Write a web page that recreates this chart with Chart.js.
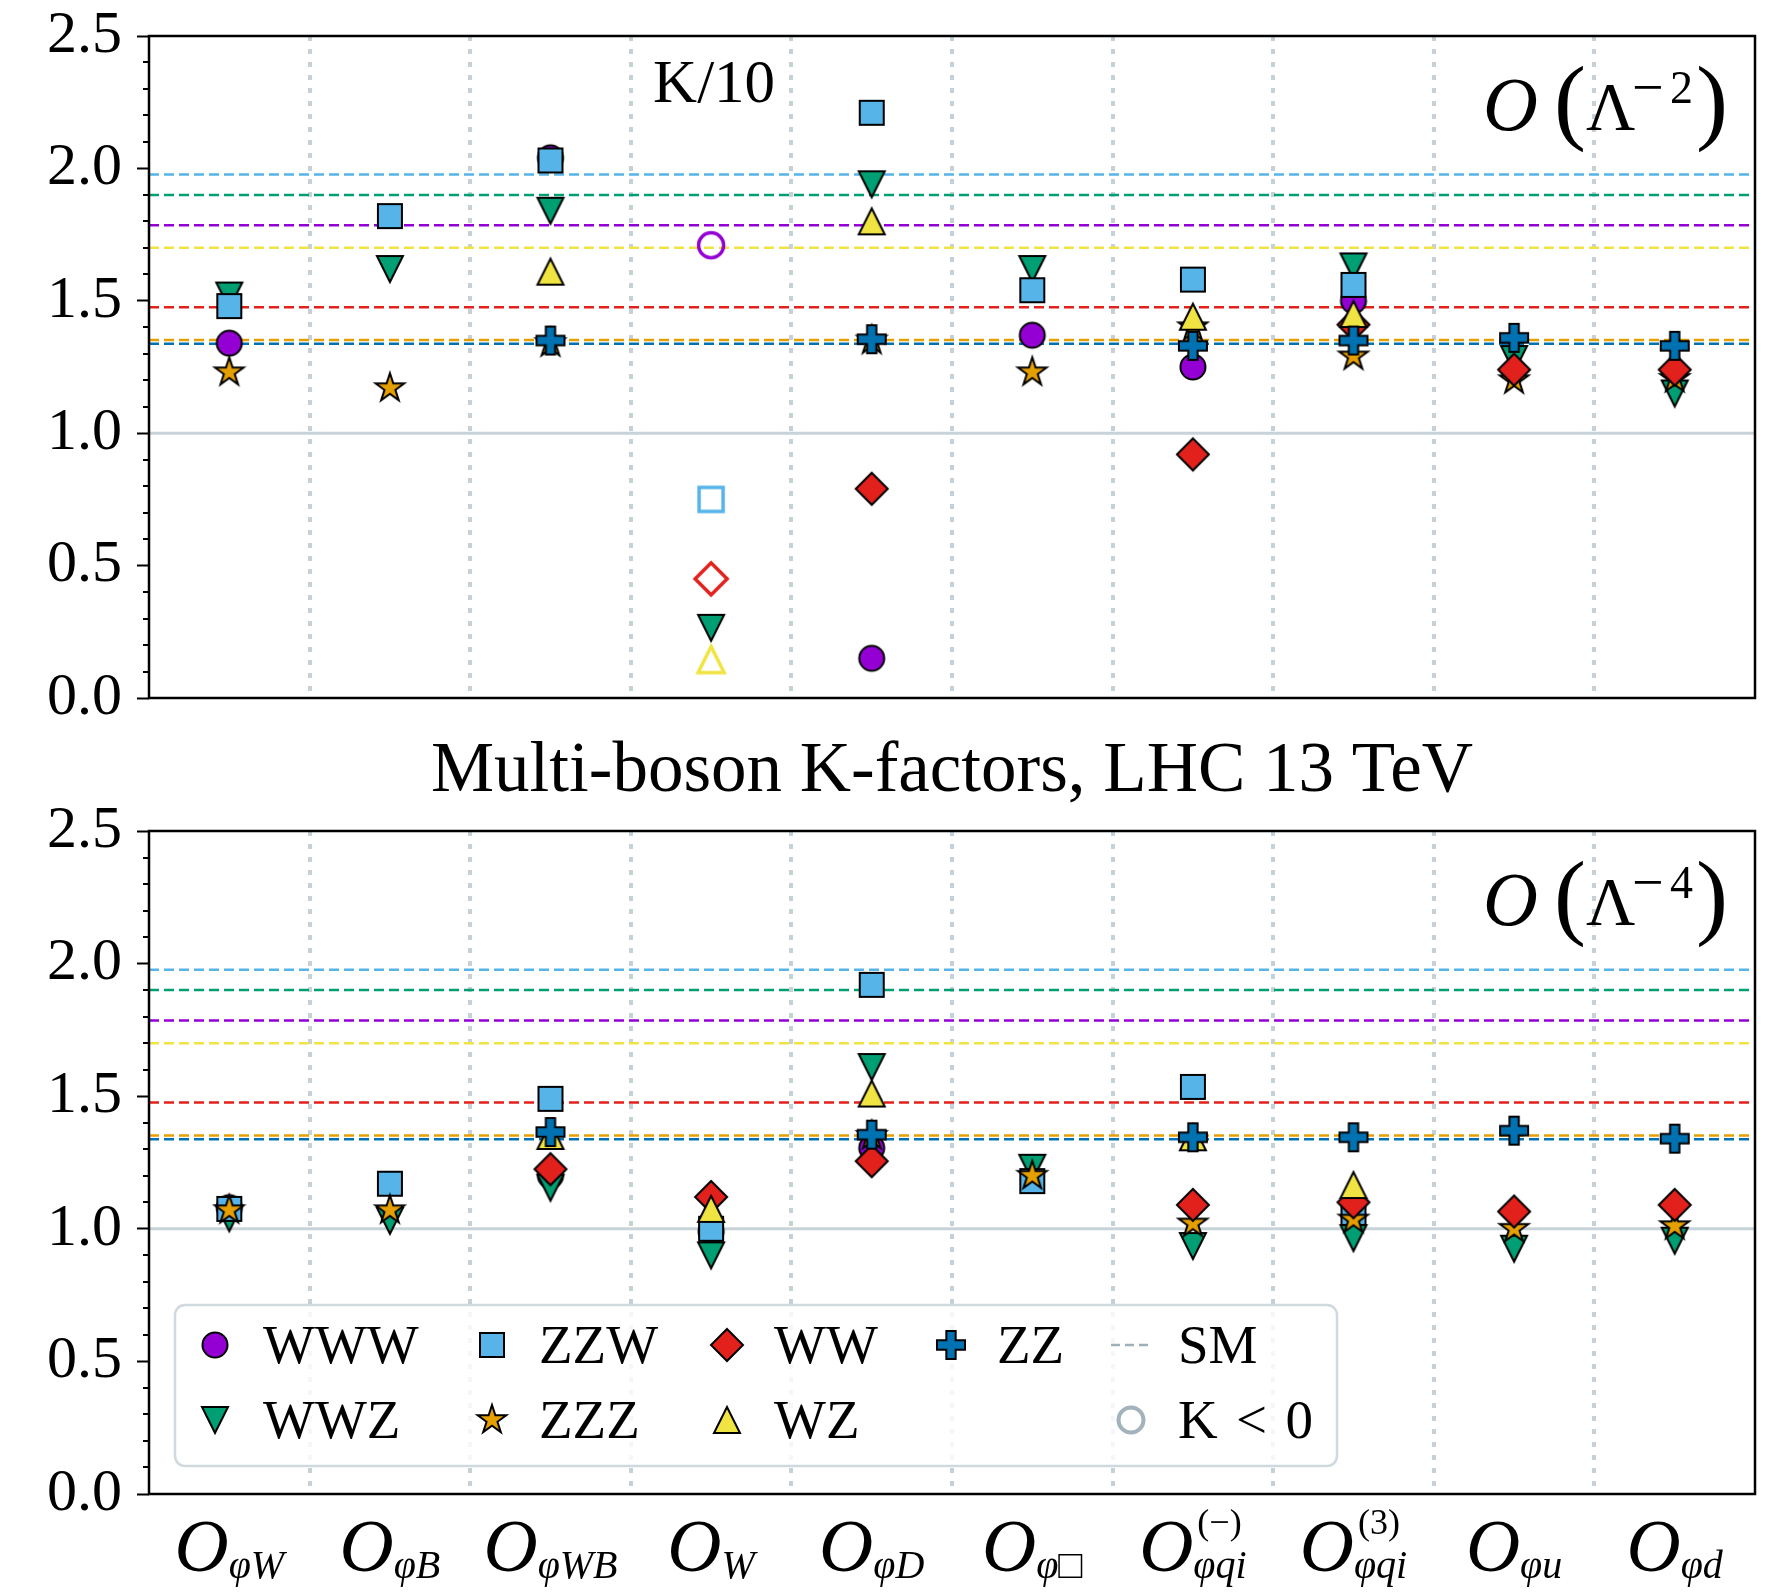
<!DOCTYPE html>
<html><head><meta charset="utf-8">
<script src="https://cdn.jsdelivr.net/npm/chart.js@4.4.1/dist/chart.umd.min.js"></script>
<style>
html,body{margin:0;padding:0;background:#fff;}
#wrap{position:relative;width:1768px;height:1596px;background:#fff;}
#c1{position:absolute;left:0;top:0;}
#c2{position:absolute;left:0;top:730px;}
</style></head><body>
<div id="wrap">
<canvas id="c1" width="1768" height="730"></canvas>
<canvas id="c2" width="1768" height="866"></canvas>
</div>
<script>
// ---------- data ----------
const tickMain = ['O','O','O','O','O','O','O','O','O','O'];
const tickSub  = ['φW','φB','φWB','W','φD','φ□','φqi','φqi','φu','φd'];
const tickSup  = ['','','','','','','(−)','(3)','',''];
const figTitle = 'Multi-boson K-factors, LHC 13 TeV';

const processes = ['WWW','WWZ','ZZW','ZZZ','WW','WZ','ZZ'];
const colors    = ['#9400D3','#009E73','#56B4E9','#E69F00','#E3211C','#F0E442','#0072B2'];
const shapes    = ['o','v','s','*','D','^','P'];
const smK       = [1.785, 1.900, 1.977, 1.352, 1.476, 1.700, 1.338];

// O(Lambda^-2), order of categories as tickSub
const L2_WWW = [1.34, null, 2.04, 1.71, 0.15, 1.37, 1.25, 1.50, null, null];
const L2_WWZ = [1.52, 1.62, 1.84, 0.265, 1.94, 1.62, null, 1.63, 1.28, 1.15];
const L2_ZZW = [1.48, 1.82, 2.03, 0.75, 2.21, 1.54, 1.58, 1.56, null, null];
const L2_ZZZ = [1.23, 1.17, 1.34, null, 1.35, 1.23, 1.40, 1.29, 1.20, 1.205];
const L2_WW  = [null, null, null, 0.45, 0.79, null, 0.92, 1.41, 1.24, 1.24];
const L2_WZ  = [null, null, 1.61, 0.145, 1.80, null, 1.44, 1.45, null, null];
const L2_ZZ  = [null, null, 1.35, null, 1.355, null, 1.33, 1.35, 1.36, 1.33];
// K<0 flags (category indices) for O(Lambda^-2)
const L2_neg_WWW = [3];
const L2_neg_WWZ = [];
const L2_neg_ZZW = [3];
const L2_neg_ZZZ = [];
const L2_neg_WW  = [3];
const L2_neg_WZ  = [3];
const L2_neg_ZZ  = [];

// O(Lambda^-4)
const L4_WWW = [1.08, null, 1.20, 0.99, 1.305, null, null, null, null, null];
const L4_WWZ = [1.04, 1.03, 1.155, 0.90, 1.61, 1.23, 0.935, 0.965, 0.925, 0.955];
const L4_ZZW = [1.075, 1.17, 1.49, 1.00, 1.92, 1.18, 1.535, 1.06, null, null];
const L4_ZZZ = [1.07, 1.07, null, null, 1.35, 1.20, 1.02, 1.035, 1.00, 1.01];
const L4_WW  = [null, null, 1.225, 1.12, 1.255, null, 1.09, 1.10, 1.065, 1.09];
const L4_WZ  = [null, null, 1.35, 1.075, 1.51, null, 1.345, 1.165, null, null];
const L4_ZZ  = [null, null, 1.365, null, 1.355, null, 1.345, 1.345, 1.37, 1.34];

const FONT = '"Liberation Serif", "DejaVu Serif", serif';

// ---------- markers ----------
function shapePath(g, shape, cx, cy) {
  g.beginPath();
  switch (shape) {
    case 'o': g.arc(cx, cy, 12.5, 0, Math.PI * 2); break;
    case 's': g.rect(cx - 12, cy - 12, 24, 24); break;
    case 'D': g.moveTo(cx, cy - 16); g.lineTo(cx + 16, cy); g.lineTo(cx, cy + 16); g.lineTo(cx - 16, cy); g.closePath(); break;
    case 'v': g.moveTo(cx - 13, cy - 13); g.lineTo(cx + 13, cy - 13); g.lineTo(cx, cy + 13); g.closePath(); break;
    case '^': g.moveTo(cx - 13, cy + 13); g.lineTo(cx + 13, cy + 13); g.lineTo(cx, cy - 13); g.closePath(); break;
    case '*': {
      const R = 15, r = R * 0.381966;
      for (let j = 0; j < 10; j++) {
        const a = -Math.PI / 2 + j * Math.PI / 5, rr = (j % 2) ? r : R;
        const px = cx + rr * Math.cos(a), py = cy + rr * Math.sin(a);
        if (j) g.lineTo(px, py); else g.moveTo(px, py);
      }
      g.closePath(); break;
    }
    case 'P': {
      const h = 14, a = h / 3;
      const pts = [[-a,-h],[a,-h],[a,-a],[h,-a],[h,a],[a,a],[a,h],[-a,h],[-a,a],[-h,a],[-h,-a],[-a,-a]];
      pts.forEach((p, j) => j ? g.lineTo(cx + p[0], cy + p[1]) : g.moveTo(cx + p[0], cy + p[1]));
      g.closePath(); break;
    }
  }
}
function makeMarker(shape, fill, stroke, lw) {
  const c = document.createElement('canvas'); c.width = 46; c.height = 46;
  const g = c.getContext('2d');
  shapePath(g, shape, 23, 23);
  if (fill) { g.fillStyle = fill; g.fill(); }
  g.lineWidth = lw; g.strokeStyle = stroke; g.lineJoin = 'miter'; g.stroke();
  return c;
}
const markersFilled = shapes.map((s, k) => makeMarker(s, colors[k], '#000', 2));
const markersHollow = shapes.map((s, k) => makeMarker(s, null, colors[k], 3.5));
const markerNeg = makeMarker('o', null, '#a3b3bb', 4);

function buildDatasets(vals, negs) {
  const ds = [];
  processes.forEach((p, k) => {
    const pts = [];
    vals[k].forEach((v, i) => { if (v !== null) pts.push({x: i, y: v, neg: negs[k].includes(i)}); });
    ds.push({
      type: 'scatter', label: p, data: pts,
      pointStyle: c => (c.raw && c.raw.neg) ? markersHollow[k] : markersFilled[k],
      pointRadius: 12, pointHoverRadius: 12,
      backgroundColor: colors[k], borderColor: '#000',
      order: 20 - k
    });
  });
  smK.forEach((v, k) => ds.push({
    type: 'line', label: 'SM ' + processes[k], data: [{x: -0.5, y: v}, {x: 9.5, y: v}],
    borderColor: colors[k], borderWidth: 2.5, borderDash: [10, 5], pointRadius: 0, fill: false, order: 40
  }));
  ds.push({type: 'line', label: 'K=1', data: [{x: -0.5, y: 1}, {x: 9.5, y: 1}],
    borderColor: '#c8d3d9', borderWidth: 3, pointRadius: 0, fill: false, order: 50});
  return ds;
}

// ---------- plugins ----------
const framePlugin = {
  id: 'frame',
  afterDraw(chart) {
    const {ctx, chartArea: a, scales: {y}} = chart;
    ctx.save();
    ctx.strokeStyle = '#000'; ctx.lineWidth = 2;
    for (let j = 1; j < 25; j++) {
      if (j % 5 === 0) continue;
      const py = Math.round(y.getPixelForValue(j / 10));
      ctx.beginPath(); ctx.moveTo(a.left - 6, py); ctx.lineTo(a.left, py); ctx.stroke();
    }
    ctx.lineWidth = 2.5;
    ctx.strokeRect(a.left, a.top, a.right - a.left, a.bottom - a.top);
    ctx.restore();
  }
};
function orderLabel(power) {
  return {
    id: 'orderLabel' + power,
    afterDraw(chart) {
      const {ctx, chartArea: a} = chart;
      const R = a.right, T = a.top;
      ctx.save(); ctx.fillStyle = '#000'; ctx.textAlign = 'left'; ctx.textBaseline = 'alphabetic';
      ctx.font = 'italic 76px ' + FONT; ctx.fillText('O', R - 272, T + 94);
      ctx.font = '96px ' + FONT;
      const mo = ctx.measureText('(');
      ctx.fillText('(', (R - 172) - mo.actualBoundingBoxRight, T + 96);
      const mc = ctx.measureText(')');
      ctx.fillText(')', (R - 56) + mc.actualBoundingBoxLeft, T + 96);
      ctx.font = '68px ' + FONT; ctx.fillText('Λ', R - 169, T + 93);
      ctx.font = '56px ' + FONT; ctx.fillText('−', R - 123, T + 70);
      ctx.font = '46px ' + FONT; ctx.fillText(String(power), R - 85, T + 67);
      ctx.restore();
    }
  };
}
const kTenPlugin = {
  id: 'kten',
  afterDraw(chart) {
    const {ctx, chartArea: a, scales: {x}} = chart;
    ctx.save(); ctx.fillStyle = '#000'; ctx.textAlign = 'center'; ctx.textBaseline = 'alphabetic';
    ctx.font = '61px ' + FONT;
    ctx.fillText('K/10', x.getPixelForValue(3) + 3, a.top + 66);
    ctx.restore();
  }
};
const titlePlugin = {
  id: 'figtitle',
  afterDraw(chart) {
    const {ctx, chartArea: a} = chart;
    ctx.save(); ctx.fillStyle = '#000'; ctx.textAlign = 'center'; ctx.textBaseline = 'alphabetic';
    ctx.font = '71px ' + FONT;
    ctx.fillText(figTitle, (a.left + a.right) / 2, a.top - 40);
    ctx.restore();
  }
};
const xLabelPlugin = {
  id: 'xlabels',
  afterDraw(chart) {
    const {ctx, chartArea: a, scales: {x}} = chart;
    ctx.save(); ctx.fillStyle = '#000'; ctx.textAlign = 'left'; ctx.textBaseline = 'alphabetic';
    tickMain.forEach((m, i) => {
      const cx = x.getPixelForValue(i);
      ctx.font = 'italic 75px ' + FONT; const wm = ctx.measureText(m).width;
      ctx.font = 'italic 40px ' + FONT; const ws = ctx.measureText(tickSub[i]).width;
      ctx.font = '36px ' + FONT; const wp = tickSup[i] ? ctx.measureText(tickSup[i]).width : 0;
      const x0 = cx - (wm + Math.max(ws, wp)) / 2;
      ctx.font = 'italic 75px ' + FONT; ctx.fillText(m, x0, a.bottom + 77);
      ctx.font = 'italic 40px ' + FONT; ctx.fillText(tickSub[i], x0 + wm, a.bottom + 84);
      if (tickSup[i]) { ctx.font = '36px ' + FONT; ctx.fillText(tickSup[i], x0 + wm + 4, a.bottom + 40); }
    });
    ctx.restore();
  }
};
const legendCols = [[0, 1], [2, 3], [4, 5], [6, null]];
const legendPlugin = {
  id: 'customLegend',
  afterDraw(chart) {
    const {ctx, chartArea: a} = chart;
    const bx = a.left + 26, by = a.top + 474, bw = 1162, bh = 161;
    ctx.save();
    ctx.beginPath(); ctx.roundRect(bx, by, bw, bh, 10);
    ctx.fillStyle = 'rgba(255,255,255,0.8)'; ctx.fill();
    ctx.lineWidth = 2.5; ctx.strokeStyle = '#d0d9dd'; ctx.stroke();
    const mx = [40, 317, 552, 776, 956], tx = [88, 364, 599, 822, 1003], ry = [40, 115];
    ctx.font = '55px ' + FONT; ctx.fillStyle = '#000'; ctx.textBaseline = 'alphabetic'; ctx.textAlign = 'left';
    legendCols.forEach((col, ci) => col.forEach((k, ri) => {
      if (k === null) return;
      const m = markersFilled[k];
      ctx.drawImage(m, bx + mx[ci] - m.width / 2, by + ry[ri] - m.height / 2);
      ctx.fillText(processes[k], bx + tx[ci], by + ry[ri] + 18);
    }));
    ctx.save(); ctx.strokeStyle = '#9fb0b9'; ctx.lineWidth = 2.5; ctx.setLineDash([9, 5]);
    ctx.beginPath(); ctx.moveTo(bx + 936, by + ry[0]); ctx.lineTo(bx + 978, by + ry[0]); ctx.stroke(); ctx.restore();
    ctx.fillText('SM', bx + tx[4], by + ry[0] + 18);
    ctx.drawImage(markerNeg, bx + mx[4] - markerNeg.width / 2, by + ry[1] - markerNeg.height / 2);
    ctx.fillText('K\u2004<\u20040', bx + tx[4], by + ry[1] + 18);
    ctx.restore();
  }
};

const gridColor = c => (c.tick && (Math.abs(c.tick.value + 0.5) < 1e-6 || Math.abs(c.tick.value - 9.5) < 1e-6)) ? 'rgba(0,0,0,0)' : '#c6d1d7';

function makeChart(canvas, datasets, isBottom, extra) {
  return new Chart(canvas, {
    type: 'scatter',
    data: {datasets},
    options: {
      responsive: false, animation: false, events: [],
      layout: {padding: isBottom ? {top: 101, right: 9, bottom: 0, left: 0} : {top: 36, right: 9, bottom: 32, left: 0}},
      plugins: {legend: {display: false}, tooltip: {enabled: false}, title: {display: false}},
      scales: {
        x: {type: 'linear', min: -0.5, max: 9.5,
            ticks: {display: false, stepSize: 1},
            grid: {color: gridColor, lineWidth: 4, drawTicks: false},
            border: {display: false, dash: [5, 8]},
            afterFit: s => { s.height = isBottom ? 102 : 0; s.paddingLeft = 0; s.paddingRight = 0; }},
        y: {type: 'linear', min: 0, max: 2.5,
            ticks: {stepSize: 0.5, callback: v => Number(v).toFixed(1), font: {family: FONT, size: 60}, color: '#000', padding: 15},
            grid: {drawOnChartArea: false, tickLength: 12, tickWidth: 2, tickColor: '#000'},
            border: {display: false},
            afterFit: s => { s.width = 149; s.paddingTop = 0; s.paddingBottom = 0; }}
      }
    },
    plugins: [framePlugin].concat(extra)
  });
}

const topSets = buildDatasets(
  [L2_WWW, L2_WWZ, L2_ZZW, L2_ZZZ, L2_WW, L2_WZ, L2_ZZ],
  [L2_neg_WWW, L2_neg_WWZ, L2_neg_ZZW, L2_neg_ZZZ, L2_neg_WW, L2_neg_WZ, L2_neg_ZZ]);
const bottomSets = buildDatasets(
  [L4_WWW, L4_WWZ, L4_ZZW, L4_ZZZ, L4_WW, L4_WZ, L4_ZZ],
  [[], [], [], [], [], [], []]);

makeChart(document.getElementById('c1'), topSets, false, [kTenPlugin, orderLabel(2)]);
makeChart(document.getElementById('c2'), bottomSets, true, [titlePlugin, orderLabel(4), xLabelPlugin, legendPlugin]);
</script>
</body></html>
